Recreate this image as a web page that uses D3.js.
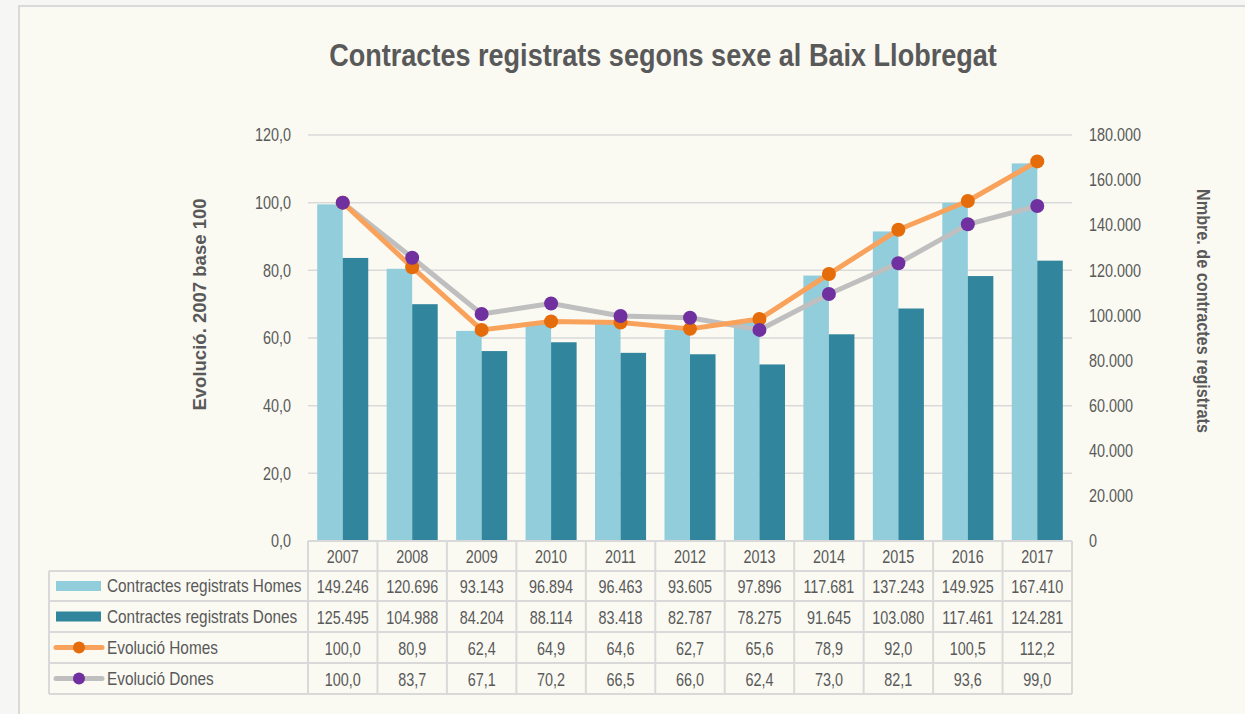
<!DOCTYPE html>
<html><head><meta charset="utf-8">
<script src="https://cdn.jsdelivr.net/npm/d3@7/dist/d3.min.js"></script>
<style>
html,body{margin:0;padding:0;background:#f6f6f4;}
svg{display:block;}
text{font-family:"Liberation Sans",Arial,sans-serif;fill:#595959;}
</style></head>
<body>
<svg id="c" width="1245" height="714"></svg>
<script>
const years = ["2007","2008","2009","2010","2011","2012","2013","2014","2015","2016","2017"];
const contractesHomes = [149246,120696,93143,96894,96463,93605,97896,117681,137243,149925,167410];
const contractesDones = [125495,104988,84204,88114,83418,82787,78275,91645,103080,117461,124281];
const evolucioHomes = [100.0,80.9,62.4,64.9,64.6,62.7,65.6,78.9,92.0,100.5,112.2];
const evolucioDones = [100.0,83.7,67.1,70.2,66.5,66.0,62.4,73.0,82.1,93.6,99.0];
const leftTicks = [0,20,40,60,80,100,120];
const rightTicks = [0,20000,40000,60000,80000,100000,120000,140000,160000,180000];
const seriesNames = ["Contractes registrats Homes","Contractes registrats Dones","Evolució Homes","Evolució Dones"];

const loc = d3.formatLocale({decimal:",",thousands:".",grouping:[3],currency:["","€"]});
const fInt = loc.format(",d");
const fDec = loc.format(",.1f");

const svg = d3.select("#c");
const W=1245,H=714;
svg.append("rect").attr("x",19).attr("y",6).attr("width",W).attr("height",H)
  .attr("fill","#fafaf3").attr("stroke","#d9d9d9").attr("stroke-width",2);

const x0=308,x1=1072,yTop=135,yBot=541;
const x = d3.scaleBand().domain(years).range([x0,x1]).paddingInner(0.265).paddingOuter(0.1325);
const xs = d3.scaleBand().domain(["H","D"]).range([0,x.bandwidth()]);
const yL = d3.scaleLinear().domain([0,120]).range([yBot,yTop]);
const yR = d3.scaleLinear().domain([0,180000]).range([yBot,yTop]);
const cx = d => x(d)+x.bandwidth()/2;
const FS = "18px";

// title
svg.append("text").attr("x",663).attr("y",66).attr("text-anchor","middle").attr("data-sx",0.846)
  .style("font-size","32px").style("font-weight","bold").text("Contractes registrats segons sexe al Baix Llobregat");

// gridlines
svg.append("g").selectAll("line").data(leftTicks).join("line")
  .attr("x1",x0).attr("x2",x1).attr("y1",d=>yL(d)).attr("y2",d=>yL(d))
  .attr("stroke","#d9d9d9").attr("stroke-width",1.5);

// left axis
const gL = svg.append("g").attr("transform",`translate(${x0},0)`)
  .call(d3.axisLeft(yL).tickValues(leftTicks).tickSize(0).tickPadding(17).tickFormat(d=>fDec(d)));
gL.select(".domain").remove();
gL.selectAll("text").style("font-size",FS).style("fill","#595959").style("font-family",null);

// right axis
const gR = svg.append("g").attr("transform",`translate(${x1},0)`)
  .call(d3.axisRight(yR).tickValues(rightTicks).tickSize(0).tickPadding(17).tickFormat(d=>d===0?"0":fInt(d)));
gR.select(".domain").remove();
gR.selectAll("text").style("font-size",FS).style("fill","#595959").style("font-family",null);

// axis titles
svg.append("text").attr("transform","translate(206,304.5) rotate(-90)").attr("text-anchor","middle").attr("data-sx",1.03)
  .style("font-size","18px").style("font-weight","bold").text("Evolució. 2007 base 100");
svg.append("text").attr("transform","translate(1197,311) rotate(90)").attr("text-anchor","middle").attr("data-sx",0.853)
  .style("font-size","19px").style("font-weight","bold").text("Nmbre. de contractes registrats");

// bars
const colH="#92cddc", colD="#31859c";
svg.append("g").selectAll("rect").data(years).join("rect")
  .attr("x",d=>x(d)+xs("H")).attr("width",xs.bandwidth())
  .attr("y",(d,i)=>yR(contractesHomes[i])).attr("height",(d,i)=>yBot-yR(contractesHomes[i]))
  .attr("fill",colH);
svg.append("g").selectAll("rect").data(years).join("rect")
  .attr("x",d=>x(d)+xs("D")).attr("width",xs.bandwidth())
  .attr("y",(d,i)=>yR(contractesDones[i])).attr("height",(d,i)=>yBot-yR(contractesDones[i]))
  .attr("fill",colD);

// lines
const lineCols = [{vals:evolucioDones,line:"#bfbfbf",dot:"#7030a0"},{vals:evolucioHomes,line:"#f9a25c",dot:"#e46c0a"}];
const lg = d3.line().x((d,i)=>cx(years[i])).y(d=>yL(d));
lineCols.forEach(s=>{
  svg.append("path").datum(s.vals).attr("d",lg).attr("fill","none")
    .attr("stroke",s.line).attr("stroke-width",5).attr("stroke-linejoin","round").attr("stroke-linecap","round");
});
[lineCols[1],lineCols[0]].forEach(s=>{
  svg.append("g").selectAll("circle").data(s.vals).join("circle")
    .attr("cx",(d,i)=>cx(years[i])).attr("cy",d=>yL(d)).attr("r",7).attr("fill",s.dot);
});

// data table
const step = (x1-x0)/years.length;
const rowY = [541,571,601,632,663,694];
const tLeft = 49;
const tg = svg.append("g");
const bc="#d9d9d9";
tg.append("line").attr("x1",x0).attr("x2",x1).attr("y1",rowY[0]).attr("y2",rowY[0]).attr("stroke",bc).attr("stroke-width",2);
rowY.slice(1).forEach(y=>tg.append("line").attr("x1",tLeft).attr("x2",x1).attr("y1",y).attr("y2",y).attr("stroke",bc).attr("stroke-width",2));
tg.append("line").attr("x1",tLeft).attr("x2",tLeft).attr("y1",rowY[1]).attr("y2",rowY[5]).attr("stroke",bc).attr("stroke-width",2);
for(let k=0;k<=years.length;k++){
  const xx=x0+k*step;
  tg.append("line").attr("x1",xx).attr("x2",xx).attr("y1",rowY[0]).attr("y2",rowY[5]).attr("stroke",bc).attr("stroke-width",2);
}
tg.selectAll("text.yr").data(years).join("text").attr("class","yr")
  .attr("x",d=>cx(d)).attr("y",(rowY[0]+rowY[1])/2+7).attr("text-anchor","middle")
  .style("font-size",FS).text(d=>d);
const rows = [
  {vals:contractesHomes,fmt:fInt},
  {vals:contractesDones,fmt:fInt},
  {vals:evolucioHomes,fmt:fDec},
  {vals:evolucioDones,fmt:fDec}
];
rows.forEach((r,ri)=>{
  const my=(rowY[ri+1]+rowY[ri+2])/2;
  tg.append("g").selectAll("text").data(r.vals).join("text")
    .attr("x",(d,i)=>cx(years[i])).attr("y",my+7).attr("text-anchor","middle")
    .style("font-size",FS).text(d=>r.fmt(d));
  tg.append("text").attr("x",107).attr("y",my+6).attr("data-sx",0.853).style("font-size",FS).text(seriesNames[ri]);
  if(ri<2){
    tg.append("rect").attr("x",56).attr("y",my-5).attr("width",45).attr("height",10).attr("fill",ri===0?colH:colD);
  } else {
    const s = ri===2?lineCols[1]:lineCols[0];
    tg.append("line").attr("x1",56).attr("x2",102).attr("y1",my).attr("y2",my).attr("stroke",s.line).attr("stroke-width",5).attr("stroke-linecap","round");
    tg.append("circle").attr("cx",79).attr("cy",my).attr("r",6).attr("fill",s.dot);
  }
});

// narrow the glyphs (Arial Narrow look) by scaling each text horizontally around its anchor
svg.selectAll("text").each(function(){
  const t = d3.select(this);
  const sx = t.attr("data-sx") ? +t.attr("data-sx") : 0.8;
  const xv = +t.attr("x")||0, yv = +t.attr("y")||0;
  const tr = t.attr("transform")||"";
  t.attr("x",0).attr("y",0).attr("transform",`${tr} translate(${xv},${yv}) scale(${sx},1)`);
});
</script>
</body></html>
